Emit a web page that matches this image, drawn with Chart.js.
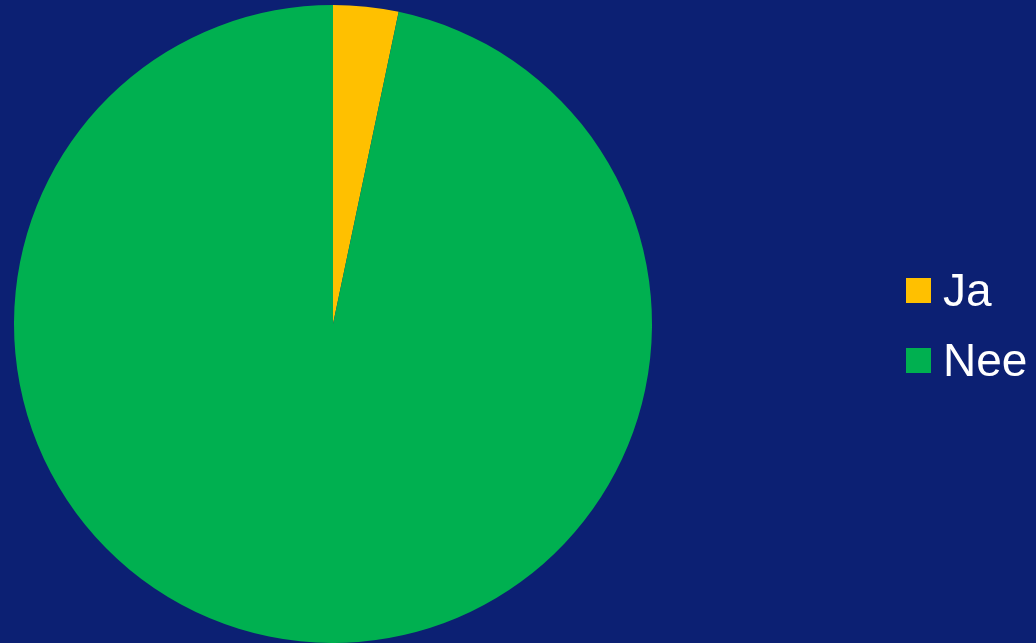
<!DOCTYPE html>
<html>
<head>
<meta charset="utf-8">
<script src="https://cdn.jsdelivr.net/npm/chart.js@4"></script>
<style>
  html, body { margin: 0; padding: 0; background: #0c2073; }
  #wrap { position: relative; width: 1036px; height: 643px; }
  #legend { position: absolute; left: 906px; top: 255px; font-family: "Liberation Sans", Arial, sans-serif; color: #fff; }
  .item { display: flex; align-items: center; height: 70px; font-size: 46px; }
  .box { width: 25px; height: 25px; margin-right: 12px; }
</style>
</head>
<body>
<div id="wrap">
  <canvas id="pieChart" width="1036" height="643"></canvas>
  <div id="legend"></div>
</div>
<script>
const labels = ['Ja', 'Nee'];
const values = [3.3, 96.7];
const colors = ['#ffc000', '#00b050'];

// legend sits to the right of the pie, built as plain html
const legend = document.getElementById('legend');
legend.innerHTML = labels.map((l, i) => `
  <div class="item"><span class="box" style="background:${colors[i]}"></span>${l}</div>
`).join('');

const ctx = document.getElementById('pieChart').getContext('2d');
new Chart(ctx, {
  type: 'pie',
  data: {
    labels: labels,
    datasets: [{
      data: values,
      backgroundColor: colors,
      borderWidth: 0,
    }]
  },
  options: {
    responsive: false,
    animation: false,
    layout: {
      padding: { left: 14, right: 384, top: 5, bottom: 0 }
    },
    plugins: {
      legend: { display: false },
      tooltip: { enabled: false }
    }
  }
});
</script>
</body>
</html>
